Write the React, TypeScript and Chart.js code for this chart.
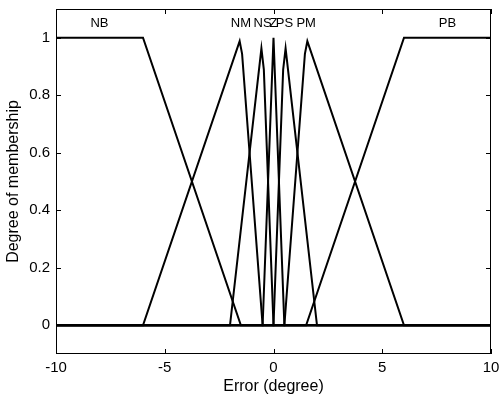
import React, { useEffect, useRef } from "react";
import { Chart, registerables } from "chart.js";

Chart.register(...registerables);

// Membership function names and label anchor positions
const mfNames = ["NB", "NM", "NS", "Z", "PS", "PM", "PB"];
const mfLabelX = [-8, -1.5, -0.5, 0, 0.5, 1.5, 8];
const mfLabelY = 1.05;

// Series vertices (x, y)
const nbX = [-10, -6, -1.5, 10];
const nbY = [1, 1, 0, 0];
const nmX = [-10, -6, -1.556, -1.444, -0.5, 10];
const nmY = [0, 0, 0.988, 0.944, 0, 0];
const nsX = [-10, -2, -0.556, -0.444, 0, 10];
const nsY = [0, 0, 0.963, 0.889, 0, 0];
const zX = [-10, -0.5, 0, 0.5, 10];
const zY = [0, 0, 1, 0, 0];
const psX = [-10, 0, 0.444, 0.556, 2, 10];
const psY = [0, 0, 0.889, 0.963, 0, 0];
const pmX = [-10, 0.5, 1.444, 1.556, 6, 10];
const pmY = [0, 0, 0.944, 0.988, 0, 0];
const pbX = [-10, 1.5, 6, 10];
const pbY = [0, 0, 1, 1];

const seriesX = [nbX, nmX, nsX, zX, psX, pmX, pbX];
const seriesY = [nbY, nmY, nsY, zY, psY, pmY, pbY];

// Axes
const xTicks = [-10, -5, 0, 5, 10];
const yTicks = [0, 0.2, 0.4, 0.6, 0.8, 1];
const xMin = -10, xMax = 10, yMin = -0.1, yMax = 1.1;
const xTitle = "Error (degree)";
const yTitle = "Degree of membership";

const FONT = "'Liberation Sans', Arial, Helvetica, sans-serif";

export default function App() {
  const ref = useRef<HTMLCanvasElement | null>(null);

  useEffect(() => {
    if (!ref.current) return;
    const framePlugin = {
      id: "matlabFrame",
      afterDatasetsDraw(chart: any) {
        const { ctx, chartArea } = chart;
        const xs = chart.scales.x;
        const ys = chart.scales.y;
        const { left, right, top, bottom } = chartArea;
        ctx.save();
        ctx.strokeStyle = "#000";
        ctx.lineWidth = 1;
        ctx.strokeRect(Math.round(left) + 0.5, Math.round(top) + 0.5, Math.round(right - left) - 1, Math.round(bottom - top) - 1);
        const tl = 5;
        ctx.beginPath();
        xTicks.forEach((v) => {
          const px = Math.round(xs.getPixelForValue(v)) + 0.5;
          ctx.moveTo(px, bottom);
          ctx.lineTo(px, bottom - tl);
          ctx.moveTo(px, top);
          ctx.lineTo(px, top + tl);
        });
        yTicks.forEach((v) => {
          const py = Math.round(ys.getPixelForValue(v)) + 0.5;
          ctx.moveTo(left, py);
          ctx.lineTo(left + tl, py);
          ctx.moveTo(right, py);
          ctx.lineTo(right - tl, py);
        });
        ctx.stroke();
        ctx.fillStyle = "#000";
        ctx.font = `13px ${FONT}`;
        ctx.textAlign = "center";
        ctx.textBaseline = "middle";
        mfNames.forEach((n, i) => {
          ctx.fillText(n, xs.getPixelForValue(mfLabelX[i]), ys.getPixelForValue(mfLabelY));
        });
        ctx.restore();
      },
    };

    const zeroPad = (s: any) => {
      s.paddingTop = 0;
      s.paddingBottom = 0;
      s.paddingLeft = 0;
      s.paddingRight = 0;
    };

    const chart = new Chart(ref.current, {
      type: "scatter",
      data: {
        datasets: mfNames.map((n, i) => ({
          label: n,
          data: seriesX[i].map((x, j) => ({ x, y: seriesY[i][j] })),
          showLine: true,
          borderColor: "#000",
          backgroundColor: "#000",
          borderWidth: 2,
          pointRadius: 0,
          fill: false,
          tension: 0,
        })),
      },
      options: {
        responsive: false,
        animation: false,
        layout: { padding: { top: 9, right: 8, left: 0, bottom: 0 } },
        plugins: { legend: { display: false }, tooltip: { enabled: false }, title: { display: false } },
        scales: {
          x: {
            type: "linear",
            min: xMin,
            max: xMax,
            grid: { display: false, drawTicks: false },
            border: { display: false },
            afterBuildTicks: (s: any) => {
              s.ticks = xTicks.map((v) => ({ value: v }));
            },
            afterFit: (s: any) => {
              s.height = 41;
              zeroPad(s);
            },
            ticks: {
              color: "#000",
              font: { family: FONT, size: 15, lineHeight: 1.1 },
              padding: 6,
              maxRotation: 0,
              autoSkip: false,
              callback: (v: any) => String(v),
            },
            title: {
              display: true,
              text: xTitle,
              color: "#000",
              font: { family: FONT, size: 16, lineHeight: 1 },
              padding: { top: 0, bottom: 0 },
            },
          },
          y: {
            type: "linear",
            min: yMin,
            max: yMax,
            grid: { display: false, drawTicks: false },
            border: { display: false },
            afterBuildTicks: (s: any) => {
              s.ticks = yTicks.map((v) => ({ value: v }));
            },
            afterFit: (s: any) => {
              s.width = 56;
              zeroPad(s);
            },
            ticks: {
              color: "#000",
              font: { family: FONT, size: 15 },
              padding: 6,
              autoSkip: false,
              callback: (v: any) => String(v),
            },
            title: {
              display: true,
              text: yTitle,
              color: "#000",
              font: { family: FONT, size: 16, lineHeight: 1 },
              padding: { top: 6, bottom: 0 },
            },
          },
        },
      },
      plugins: [framePlugin],
    });
    return () => chart.destroy();
  }, []);

  return (
    <div style={{ position: "absolute", left: 0, top: 0, width: 499, height: 395, background: "#fff" }}>
      <canvas ref={ref} width={499} height={395} style={{ width: 499, height: 395, display: "block" }} />
    </div>
  );
}
